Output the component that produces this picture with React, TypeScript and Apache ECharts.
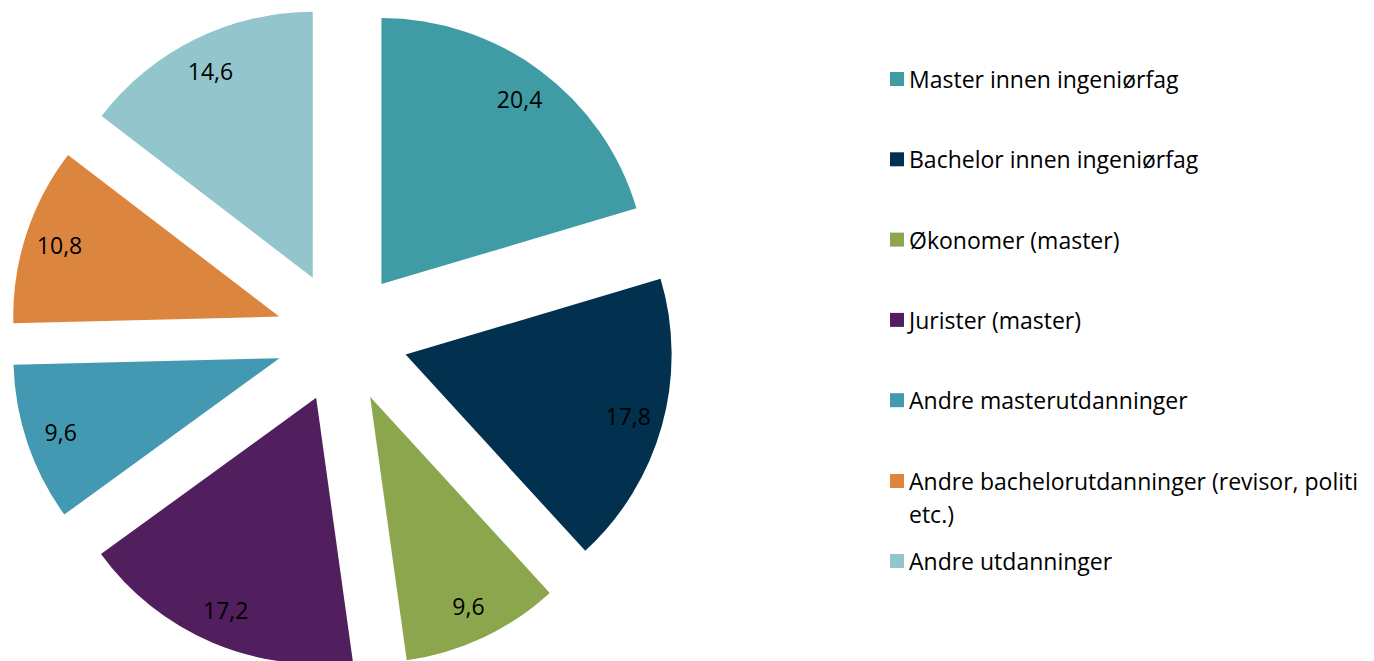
import React, { useEffect, useRef } from "react";
import * as echarts from "echarts";

const categories = [
  "Master innen ingeniørfag",
  "Bachelor innen ingeniørfag",
  "Økonomer (master)",
  "Jurister (master)",
  "Andre masterutdanninger",
  "Andre bachelorutdanninger (revisor, politi etc.)",
  "Andre utdanninger",
];
const values = [20.4, 17.8, 9.6, 17.2, 9.6, 10.8, 14.6];
const colors = ["#3F9CA5", "#02304F", "#8BA64D", "#521F5E", "#4399B1", "#DC853F", "#93C6CC"];

const FONT = "'Open Sans', 'Noto Sans', sans-serif";

export default function App() {
  const ref = useRef<HTMLDivElement>(null);
  useEffect(() => {
    if (!ref.current) return;
    const chart = echarts.init(ref.current, null, { renderer: "svg" });
    const center = [342, 337];
    const commonLegend = {
      orient: "vertical",
      left: 890,
      padding: 0,
      icon: "rect",
      itemWidth: 14,
      itemHeight: 14,
      selectedMode: false,
      textStyle: { fontFamily: FONT, fontSize: 23, color: "#000", lineHeight: 33 },
    };
    chart.setOption({
      animation: false,
      color: colors,
      legend: [
        { ...commonLegend, top: 62.5, itemGap: 47.3, data: categories.slice(0, 5) },
        {
          ...commonLegend,
          top: 431.5,
          data: [categories[5]],
          formatter: (n: string) => "\n" + n.replace(" etc.", "\netc."),
        },
        { ...commonLegend, top: 544.5, data: [categories[6]] },
      ],
      series: [
        {
          type: "pie",
          center,
          radius: [0, 266],
          startAngle: 90,
          clockwise: true,
          selectedMode: "multiple",
          selectedOffset: 66,
          avoidLabelOverlap: false,
          label: { show: false },
          labelLine: { show: false },
          emphasis: { scale: false, disabled: true },
          itemStyle: { borderWidth: 0 },
          data: categories.map((c, i) => ({ name: c, value: values[i], selected: true })),
        },
        {
          type: "pie",
          center,
          radius: [190, 266],
          startAngle: 90,
          clockwise: true,
          silent: true,
          selectedMode: "multiple",
          selectedOffset: 66,
          avoidLabelOverlap: false,
          emphasis: { scale: false, disabled: true },
          itemStyle: { color: "rgba(0,0,0,0)", borderWidth: 0 },
          label: {
            show: true,
            position: "inside",
            fontFamily: FONT,
            fontSize: 23,
            color: "#000",
            formatter: (p: any) => String(p.value).replace(".", ","),
          },
          labelLine: { show: false },
          data: categories.map((c, i) => ({ name: c, value: values[i], selected: true })),
        },
      ],
    });
    return () => chart.dispose();
  }, []);
  return (
    <div
      ref={ref}
      style={{ position: "absolute", left: 0, top: 0, width: 1374, height: 661 }}
    />
  );
}
